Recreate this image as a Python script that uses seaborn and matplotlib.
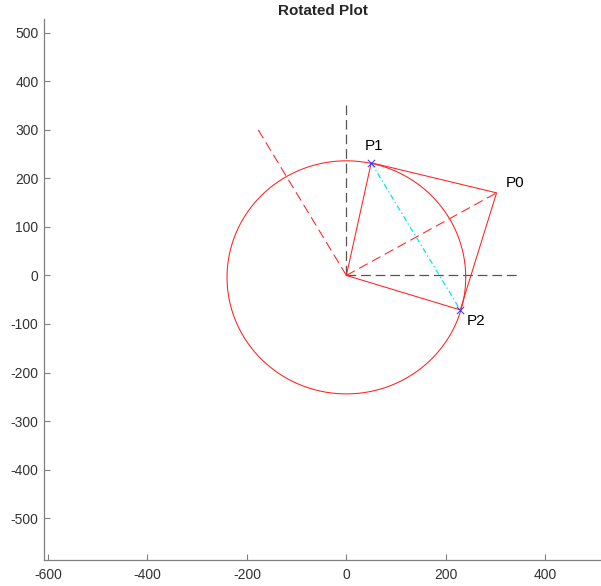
import numpy as np
import pandas as pd
import matplotlib
matplotlib.use("Agg")
import matplotlib.pyplot as plt
import seaborn as sns

# ---- data ----
point_names = ["P0", "P1", "P2"]
point_x = [302, 50, 229]
point_y = [170, 232, -71]
label_x = [339, 56, 261]
label_y = [190, 267, -94]
perp_end = [-178, 301]
axis_len = 350
circle_r = 240
circle_cy = -4
xticks = [-600, -400, -200, 0, 200, 400]
yticks = [-500, -400, -300, -200, -100, 0, 100, 200, 300, 400, 500]
title = "Rotated Plot"

sns.set_theme(style="white")
plt.rcParams["font.family"] = ["Liberation Sans", "DejaVu Sans"]
plt.rcParams["lines.scale_dashes"] = False
plt.rcParams["axes.unicode_minus"] = False

fig = plt.figure(figsize=(6.01, 5.86), dpi=100)
ax = fig.add_axes([44 / 601, 26 / 586, 1 - 44 / 601, (560 - 19) / 586])

def seg(xs, ys, **kw):
    df = pd.DataFrame({"x": xs, "y": ys, "o": range(len(xs))})
    sns.lineplot(data=df, x="x", y="y", sort=False, estimator=None, ax=ax, **kw)

P = dict(zip(point_names, zip(point_x, point_y)))

# black dashed reference axes
seg([0, 0], [0, axis_len], color="#555555", lw=0.9, dashes=(7, 3.5))
seg([0, axis_len], [0, 0], color="#555555", lw=0.9, dashes=(7, 3.5))

# circle
theta = np.linspace(0, 2 * np.pi, 400)
seg(list(circle_r * np.cos(theta)), list(circle_cy + circle_r * np.sin(theta)),
    color="#FF2020", lw=0.75)

# red dashed lines from origin
seg([0, P["P0"][0]], [0, P["P0"][1]], color="#FF2020", lw=0.75, dashes=(7, 3.5))
seg([0, perp_end[0]], [0, perp_end[1]], color="#FF2020", lw=0.75, dashes=(7, 3.5))

# kite polygon
seg([0, P["P1"][0], P["P0"][0], P["P2"][0], 0],
    [0, P["P1"][1], P["P0"][1], P["P2"][1], 0], color="#FF2020", lw=0.75)

# cyan dash-dot chord
seg([P["P1"][0], P["P2"][0]], [P["P1"][1], P["P2"][1]], color="#00E5FF", lw=0.9,
    dashes=(4, 2, 1, 2))

# markers
mk = pd.DataFrame({"x": [P["P1"][0], P["P2"][0]], "y": [P["P1"][1], P["P2"][1]]})
sns.scatterplot(data=mk, x="x", y="y", marker="x", color="#3030FF", s=28,
                linewidth=0.7, ax=ax, zorder=5)

for n, lx, ly in zip(point_names, label_x, label_y):
    ax.text(lx, ly, n, fontsize=11, color="#000000", ha="center", va="center")

ax.set_xlim(-608, 512)
ax.set_ylim(-586, 528)
ax.set_xticks(xticks)
ax.set_yticks(yticks)
ax.set_xlabel("")
ax.set_ylabel("")
ax.set_title(title, fontsize=11, fontweight="bold", color="#262626", pad=3)

for s in ["top", "right"]:
    ax.spines[s].set_visible(False)
for s in ["left", "bottom"]:
    ax.spines[s].set_color("#808080")
    ax.spines[s].set_linewidth(0.9)
ax.tick_params(axis="both", direction="in", length=4, width=0.8, color="#808080",
               labelsize=10, labelcolor="#333333")
ax.tick_params(axis="x", pad=6)
ax.tick_params(axis="y", pad=4)
ax.tick_params(left=True, bottom=True)

fig.savefig("out.png", dpi=100)
